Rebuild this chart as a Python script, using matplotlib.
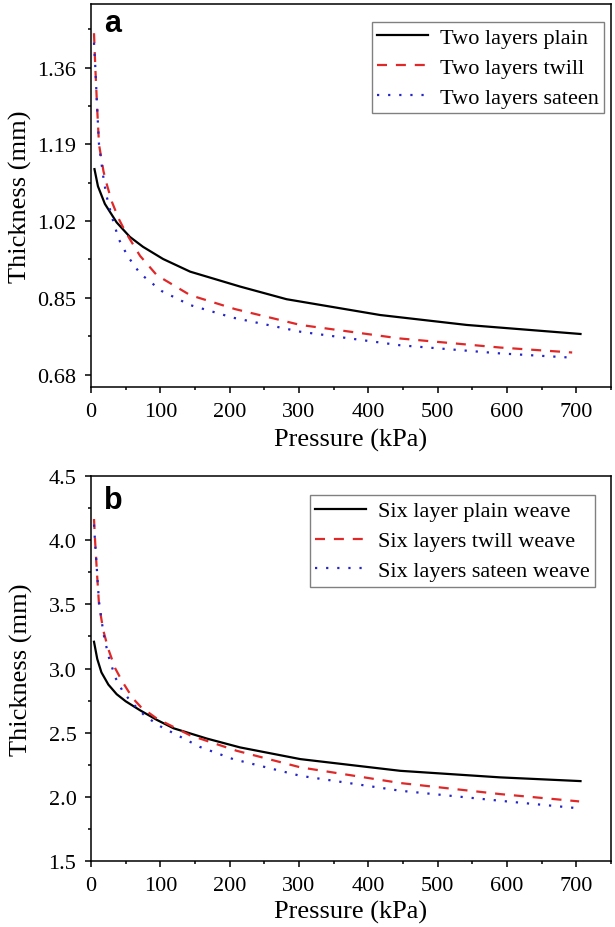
import matplotlib
matplotlib.use("Agg")
import matplotlib.pyplot as plt
from matplotlib.ticker import MultipleLocator, FixedLocator

# ---- data ----
two_plain_x = [5, 10, 20, 37, 56, 75, 104, 143, 215, 282, 417, 542, 706]
two_plain_y = [1.135, 1.097, 1.058, 1.017, 0.985, 0.963, 0.936, 0.908, 0.875, 0.847, 0.812, 0.790, 0.770]

two_twill_x = [4.3, 6.2, 8.7, 11.5, 18, 23, 30, 40, 50, 70.7, 95, 143, 208, 302, 446, 590, 694]
two_twill_y = [1.436, 1.36, 1.275, 1.19, 1.13, 1.10, 1.063, 1.025, 0.995, 0.943, 0.900, 0.856, 0.825, 0.790, 0.760, 0.740, 0.729]

two_sateen_x = [4.3, 6.2, 8.7, 11.5, 17.5, 22, 30, 40, 53, 70.7, 102, 143, 205, 302, 446, 590, 689]
two_sateen_y = [1.415, 1.36, 1.275, 1.19, 1.12, 1.078, 1.03, 0.98, 0.942, 0.904, 0.865, 0.834, 0.806, 0.775, 0.745, 0.727, 0.718]

six_plain_x = [4.3, 9, 15, 25, 37, 50, 70.7, 95, 119, 167, 215, 302, 446, 590, 706]
six_plain_y = [3.208, 3.074, 2.97, 2.875, 2.80, 2.745, 2.675, 2.60, 2.535, 2.455, 2.386, 2.295, 2.204, 2.153, 2.124]

six_twill_x = [4.3, 5.8, 8.5, 11.5, 17.5, 25, 35, 45, 60, 72, 95, 143, 210, 302, 446, 590, 704]
six_twill_y = [4.163, 4.0, 3.75, 3.5, 3.30, 3.15, 3.0, 2.90, 2.77, 2.70, 2.61, 2.48, 2.36, 2.231, 2.109, 2.023, 1.966]

six_sateen_x = [4.3, 6, 8.7, 11.5, 18, 25, 35, 45, 57, 78, 100, 157, 205, 302, 446, 590, 704]
six_sateen_y = [4.12, 3.97, 3.75, 3.52, 3.27, 3.10, 2.93, 2.83, 2.745, 2.63, 2.55, 2.39, 2.295, 2.165, 2.049, 1.971, 1.912]

labels_a = ["Two layers plain", "Two layers twill", "Two layers sateen"]
labels_b = ["Six layer plain weave", "Six layers twill weave", "Six layers sateen weave"]
yticks_a = [0.68, 0.85, 1.02, 1.19, 1.36]
yticks_b = [1.5, 2.0, 2.5, 3.0, 3.5, 4.0, 4.5]
xticks = [0, 100, 200, 300, 400, 500, 600, 700]

# ---- style ----
plt.rcParams['font.family'] = ['Liberation Serif', 'DejaVu Serif']
RED = '#e02828'
BLUE = '#2424c8'

fig = plt.figure(figsize=(6.15, 9.28), dpi=100)
axA = fig.add_axes([0.148, 0.5816, 0.8455, 0.4127])
axB = fig.add_axes([0.148, 0.0708, 0.8455, 0.4155])


def style(ax, yt, ymin, ymax, yminor, fmt):
    ax.set_xlim(0, 750)
    ax.set_ylim(ymin, ymax)
    ax.xaxis.set_major_locator(FixedLocator(xticks))
    ax.xaxis.set_minor_locator(MultipleLocator(50))
    ax.yaxis.set_major_locator(FixedLocator(yt))
    ax.yaxis.set_minor_locator(MultipleLocator(yminor))
    ax.set_yticklabels([fmt.format(v) for v in yt])
    ax.tick_params(which='both', direction='out', top=False, right=False,
                   width=1.1, labelsize=16)
    ax.tick_params(which='major', length=4.5, pad=6)
    ax.tick_params(which='minor', length=2.5)
    for s in ax.spines.values():
        s.set_linewidth(1.1)
    ax.set_xlabel("Pressure (kPa)", fontsize=19)
    ax.set_ylabel("Thickness (mm)", fontsize=19)
    ax.xaxis.label.set_va('center')
    ax.yaxis.label.set_va('center')


style(axA, yticks_a, 0.652, 1.50, 0.085, "{:.2f}")
style(axB, yticks_b, 1.5, 4.5, 0.25, "{:.1f}")
axA.xaxis.set_label_coords(0.5, -0.137)
axA.yaxis.set_label_coords(-0.136, 0.5)
axB.xaxis.set_label_coords(0.5, -0.130)
axB.yaxis.set_label_coords(-0.134, 0.5)

lw = 1.6
axA.plot(two_plain_x, two_plain_y, color='black', lw=lw, label=labels_a[0])
axA.plot(two_twill_x, two_twill_y, color=RED, lw=lw, dashes=(4.5, 4), label=labels_a[1])
axA.plot(two_sateen_x, two_sateen_y, color=BLUE, lw=lw, dashes=(1, 4), label=labels_a[2])

axB.plot(six_plain_x, six_plain_y, color='black', lw=lw, label=labels_b[0])
axB.plot(six_twill_x, six_twill_y, color=RED, lw=lw, dashes=(4.5, 4), label=labels_b[1])
axB.plot(six_sateen_x, six_sateen_y, color=BLUE, lw=lw, dashes=(1, 4), label=labels_b[2])

for ax, anchor in ((axA, (0.9865, 0.9546)), (axB, (0.969, 0.949))):
    leg = ax.legend(loc='upper right', bbox_to_anchor=anchor, borderaxespad=0,
                    fontsize=16, fancybox=False, framealpha=1, handlelength=2.3,
                    labelspacing=0.42, handletextpad=0.5, borderpad=0.25)
    leg.get_frame().set_edgecolor('#808080')
    leg.get_frame().set_linewidth(1.0)

axA.text(0.025, 0.930, "a", transform=axA.transAxes, fontsize=22,
         fontweight='bold', family='Liberation Sans', va='baseline', ha='left')
axB.text(0.025, 0.916, "b", transform=axB.transAxes, fontsize=22,
         fontweight='bold', family='Liberation Sans', va='baseline', ha='left')

fig.savefig("out.png", dpi=100)
